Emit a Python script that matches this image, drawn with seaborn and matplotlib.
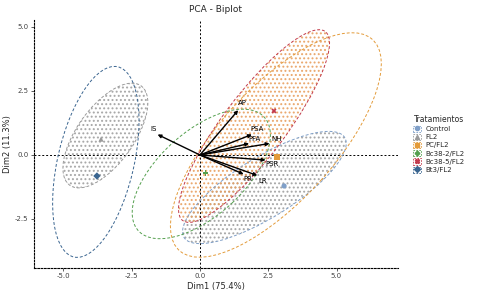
import numpy as np
import pandas as pd
import matplotlib
matplotlib.use("Agg")
import matplotlib.pyplot as plt
import seaborn as sns
from matplotlib.patches import Ellipse, Patch
from matplotlib.lines import Line2D

# ---- data ----
groups = ["Control", "FL2", "PC/FL2", "Bc38-2/FL2", "Bc38-5/FL2", "Bt3/FL2"]
colors = ["#7f9fc8", "#9a9a9a", "#e39b3a", "#55a04f", "#c23a4c", "#3a6590"]
markers = ["o", "^", "s", "P", "X", "D"]

mean_x = [3.08, -3.62, 2.82, 0.2, 2.71, -3.77]
mean_y = [-1.21, 0.62, -0.08, -0.7, 1.72, -0.82]

ell_cx = [2.36, -3.46, 2.78, 0.05, 1.98, -3.81]
ell_cy = [-1.27, 0.76, 0.39, -0.74, 1.13, -0.27]
ell_a = [3.53, 2.34, 5.43, 3.2, 4.52, 3.8]
ell_b = [1.15, 1.06, 2.15, 1.6, 1.17, 1.4]
ell_angle = [34, 57, 50, 45, 55, 78]
ell_fill = ["#a0a0a0", "#a0a0a0", None, None, "#e8a060", None]

var_names = ["AP", "PSA", "PFA", "NH", "PSR", "PR", "LR", "IS"]
var_x = [1.40, 1.90, 1.80, 2.55, 2.40, 1.60, 2.10, -1.55]
var_y = [1.75, 0.80, 0.45, 0.45, -0.20, -0.75, -0.80, 0.80]

title = "PCA - Biplot"
xlab = "Dim1 (75.4%)"
ylab = "Dim2 (11.3%)"
legend_title = "Tratamientos"

# ---- plot ----
sns.set_theme(style="white")
plt.rcParams["font.family"] = ["DejaVu Sans"]
plt.rcParams["hatch.linewidth"] = 0.9

fig = plt.figure(figsize=(4.83, 2.99), dpi=100)
ax = fig.add_axes([0.070, 0.104, 0.754, 0.829])

for i, g in enumerate(groups):
    c = colors[i]
    if ell_fill[i] is not None:
        ax.add_patch(Ellipse((ell_cx[i], ell_cy[i]), 2 * ell_a[i], 2 * ell_b[i],
                             angle=ell_angle[i], facecolor="none", hatch="....",
                             edgecolor=ell_fill[i], alpha=0.9,
                             linewidth=0, zorder=1))
    ax.add_patch(Ellipse((ell_cx[i], ell_cy[i]), 2 * ell_a[i], 2 * ell_b[i],
                         angle=ell_angle[i], facecolor="none", edgecolor=c,
                         linewidth=0.7, linestyle=(0, (3, 2)), zorder=2))

ax.axhline(0, color="black", lw=0.7, ls=(0, (2, 2)), zorder=1.5)
ax.axvline(0, color="black", lw=0.7, ls=(0, (2, 2)), zorder=1.5)

df = pd.DataFrame({"x": mean_x, "y": mean_y, "g": groups})
sns.scatterplot(data=df, x="x", y="y", hue="g", style="g", palette=colors,
                markers=dict(zip(groups, markers)), hue_order=groups,
                style_order=groups, s=14, legend=False, ax=ax, zorder=4,
                edgecolor="none")

for n, vx, vy in zip(var_names, var_x, var_y):
    ax.annotate("", xy=(vx, vy), xytext=(0, 0),
                arrowprops=dict(arrowstyle="-|>", color="black", lw=1.0,
                                mutation_scale=5, shrinkA=0, shrinkB=0),
                zorder=5)
    ax.text(vx * 1.1, vy * 1.1 + (0.12 if vy >= 0 else -0.12), n,
            fontsize=5, ha="center", va="center", color="black", zorder=6)

ax.set_xlim(-6.08, 7.25)
ax.set_ylim(-4.41, 5.27)
ax.set_xticks([-5.0, -2.5, 0.0, 2.5, 5.0])
ax.set_yticks([-2.5, 0.0, 2.5, 5.0])
ax.set_xticklabels(["-5.0", "-2.5", "0.0", "2.5", "5.0"])
ax.set_yticklabels(["-2.5", "0.0", "2.5", "5.0"])
ax.tick_params(axis="both", labelsize=5, colors="#444444", length=2, width=0.6,
               pad=2, direction="out", bottom=True, left=True)
for s in ["top", "right"]:
    ax.spines[s].set_visible(False)
for s in ["left", "bottom"]:
    ax.spines[s].set_color("black")
    ax.spines[s].set_linewidth(0.8)
    ax.spines[s].set_linestyle((0, (1.5, 1.5)))

ax.set_xlabel(xlab, fontsize=6, labelpad=2)
ax.set_ylabel(ylab, fontsize=6, labelpad=2)
ax.set_title(title, fontsize=6.5, pad=6)

handles = []
for i, g in enumerate(groups):
    p = Patch(facecolor="white", edgecolor=colors[i],
              linestyle=(0, (2, 1.5)), linewidth=0.6)
    m = Line2D([], [], marker=markers[i], color=colors[i], linestyle="none",
               markersize=3)
    handles.append((p, m))
leg = ax.legend(handles, groups, title=legend_title, loc="center left",
                bbox_to_anchor=(1.03, 0.5), fontsize=5, title_fontsize=5.5,
                frameon=False, handlelength=1.2, handleheight=1.0,
                labelspacing=0.25, handletextpad=0.6, borderaxespad=0.2)

fig.savefig("out.png", dpi=100)
